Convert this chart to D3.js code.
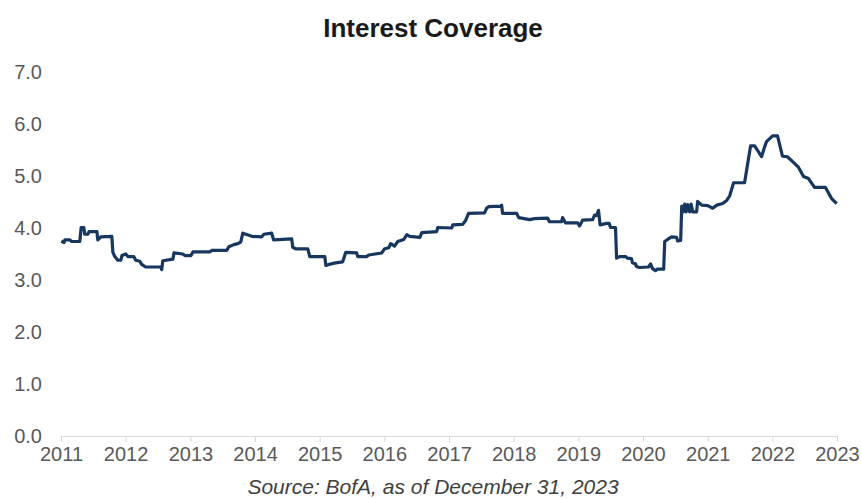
<!DOCTYPE html>
<html>
<head>
<meta charset="utf-8">
<script src="https://cdn.jsdelivr.net/npm/d3@7"></script>
<style>
  body { margin: 0; background: #fff; }
  svg { font-family: "Liberation Sans", Arial, sans-serif; }
</style>
</head>
<body>
<svg id="chart"></svg>
<script>
// Données (ratio de couverture des intérêts)
const dates = [
  "2011-01-03","2011-01-18","2011-01-23","2011-02-20","2011-03-03","2011-04-17","2011-04-25","2011-05-10",
  "2011-05-15","2011-06-02","2011-06-08","2011-07-23","2011-07-28","2011-08-14","2011-10-15","2011-10-21",
  "2011-11-01","2011-11-18","2011-12-05","2011-12-11","2012-01-02","2012-01-14","2012-02-16","2012-02-27",
  "2012-03-21","2012-04-01","2012-04-23","2012-07-17","2012-07-23","2012-07-29","2012-09-24","2012-09-30",
  "2012-11-19","2012-12-01","2013-01-04","2013-01-15","2013-04-20","2013-05-02","2013-07-25","2013-08-06",
  "2013-09-03","2013-09-26","2013-10-12","2013-10-24","2013-12-14","2014-02-08","2014-02-20","2014-04-05",
  "2014-04-16","2014-07-27","2014-08-02","2014-08-19","2014-10-26","2014-11-06","2015-01-30","2015-02-05",
  "2015-02-22","2015-04-01","2015-05-11","2015-05-28","2015-07-29","2015-08-04","2015-09-24","2015-10-05",
  "2015-12-17","2016-01-03","2016-01-26","2016-02-06","2016-02-28","2016-03-17","2016-04-20","2016-05-07",
  "2016-05-24","2016-07-20","2016-07-31","2016-10-23","2016-10-29","2017-01-16","2017-01-22","2017-03-19",
  "2017-04-05","2017-04-21","2017-07-20","2017-08-01","2017-08-12","2017-10-19","2017-10-25","2017-10-30",
  "2018-01-18","2018-01-29","2018-04-01","2018-04-29","2018-07-11","2018-07-22","2018-09-28","2018-10-04",
  "2018-10-20","2018-12-28","2019-01-08","2019-01-25","2019-03-23","2019-04-03","2019-04-14","2019-04-25",
  "2019-05-04","2019-06-10","2019-06-24","2019-07-02","2019-07-30","2019-08-05","2019-08-22","2019-09-25",
  "2019-10-06","2019-10-28","2019-11-03","2019-11-20","2019-11-25","2019-12-12","2020-02-01","2020-02-13",
  "2020-02-24","2020-03-12","2020-03-23","2020-04-27","2020-05-03","2020-05-19","2020-06-11","2020-07-09",
  "2020-07-15","2020-08-01","2020-08-07","2020-08-15","2020-08-24","2020-09-01","2020-09-10","2020-09-21",
  "2020-09-29","2020-10-08","2020-10-30","2020-11-05","2020-11-28","2021-01-01","2021-01-29","2021-02-21",
  "2021-03-26","2021-04-18","2021-05-05","2021-05-27","2021-07-28","2021-08-31","2021-09-23","2021-11-01",
  "2021-11-18","2021-11-29","2022-01-02","2022-01-30","2022-02-27","2022-03-27","2022-04-24","2022-05-28",
  "2022-06-26","2022-07-24","2022-08-27","2022-10-28","2022-12-01","2022-12-30"
];
const coverage = [
  3.75,3.72,3.77,3.77,3.74,3.74,4.01,4.01,
  3.88,3.88,3.93,3.93,3.77,3.83,3.84,3.53,
  3.45,3.38,3.38,3.47,3.50,3.45,3.45,3.38,
  3.36,3.30,3.25,3.25,3.20,3.37,3.40,3.52,
  3.50,3.47,3.47,3.54,3.54,3.57,3.57,3.64,
  3.68,3.70,3.73,3.90,3.84,3.83,3.88,3.90,
  3.77,3.79,3.63,3.60,3.60,3.45,3.45,3.28,
  3.30,3.33,3.35,3.53,3.52,3.45,3.45,3.48,
  3.52,3.60,3.62,3.70,3.65,3.74,3.78,3.87,
  3.84,3.82,3.91,3.93,4.01,4.00,4.06,4.07,
  4.15,4.28,4.29,4.38,4.41,4.42,4.44,4.28,
  4.28,4.20,4.16,4.18,4.19,4.12,4.12,4.20,
  4.10,4.10,4.04,4.15,4.16,4.25,4.24,4.34,
  4.06,4.09,4.09,4.01,4.01,3.42,3.45,3.45,
  3.42,3.41,3.33,3.31,3.26,3.24,3.25,3.31,
  3.22,3.18,3.21,3.21,3.74,3.78,3.83,3.82,
  3.75,3.76,4.42,4.31,4.46,4.31,4.45,4.31,
  4.46,4.31,4.31,4.51,4.44,4.43,4.38,4.44,
  4.47,4.53,4.62,4.87,4.87,5.58,5.58,5.37,
  5.56,5.66,5.77,5.77,5.38,5.37,5.28,5.17,
  4.99,4.95,4.78,4.78,4.57,4.47
];
const yearTicks = [2011,2012,2013,2014,2015,2016,2017,2018,2019,2020,2021,2022,2023];
const yTicks = [0,1,2,3,4,5,6,7];

const width = 861, height = 499;
const margin = { top: 72, right: 24, bottom: 63, left: 61 };

const svg = d3.select("#chart")
    .attr("width", width)
    .attr("height", height);

const parseDate = d3.timeParse("%Y-%m-%d");
const data = dates.map((d, i) => ({ date: parseDate(d), value: coverage[i] }));

const x = d3.scaleTime()
    .domain([new Date(2011, 0, 1), new Date(2023, 0, 1)])
    .range([margin.left, width - margin.right]);

const y = d3.scaleLinear()
    .domain([0, 7])
    .range([height - margin.bottom, margin.top]);

// Titre
svg.append("text")
    .attr("x", 433)
    .attr("y", 37)
    .attr("text-anchor", "middle")
    .attr("font-size", 26)
    .attr("font-weight", "bold")
    .attr("fill", "#1a1a1a")
    .text("Interest Coverage");

// Axe Y (étiquettes seulement)
svg.append("g")
    .selectAll("text")
    .data(yTicks)
    .join("text")
    .attr("x", 42)
    .attr("y", d => y(d))
    .attr("dy", "0.35em")
    .attr("text-anchor", "end")
    .attr("font-size", 20)
    .attr("fill", "#595959")
    .text(d => d3.format(".1f")(d));

// Axe X
const xAxis = d3.axisBottom(x)
    .tickValues(yearTicks.map(yr => new Date(yr, 0, 1)))
    .tickFormat(d3.timeFormat("%Y"))
    .tickSizeInner(6)
    .tickSizeOuter(0)
    .tickPadding(5);

const gx = svg.append("g")
    .attr("transform", `translate(0,${y(0)})`)
    .call(xAxis);

gx.select(".domain").attr("stroke", "#d9d9d9");
gx.selectAll(".tick line").attr("stroke", "#d9d9d9");
gx.selectAll(".tick text")
    .attr("font-family", "Liberation Sans, Arial, sans-serif")
    .attr("font-size", 20)
    .attr("fill", "#595959");

// Courbe
const line = d3.line()
    .x(d => x(d.date))
    .y(d => y(d.value));

svg.append("path")
    .datum(data)
    .attr("fill", "none")
    .attr("stroke", "#17375e")
    .attr("stroke-width", 3.2)
    .attr("stroke-linejoin", "round")
    .attr("d", line);

// Source
svg.append("text")
    .attr("x", 433)
    .attr("y", 494)
    .attr("text-anchor", "middle")
    .attr("font-size", 21)
    .attr("font-style", "italic")
    .attr("fill", "#404040")
    .text("Source: BofA, as of December 31, 2023");
</script>
</body>
</html>
